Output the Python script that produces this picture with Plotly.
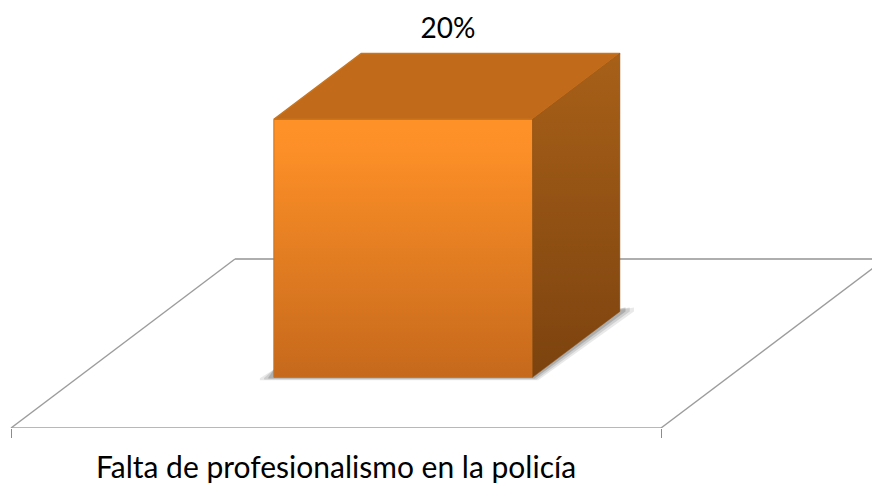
import plotly.graph_objects as go

categories = ["Falta de profesionalismo en la policía"]
values = [20]
labels = ["20%"]

WIDTH, HEIGHT = 872, 483
ML, MB = 0, 55
X0_PX = 336          # pixel of category 0
CAT_PX = 650         # pixels per category
Y_PX = 12.9          # pixels per percent

# oblique depth of the floor, in axis units
FLOOR_DX = 224 / CAT_PX
FLOOR_DY = 169 / Y_PX
BAR_W = 0.398        # bar width as part of the category
BAR_START = 0.30     # where the bar starts along the floor depth
BAR_DEPTH = 0.39     # how much of the floor depth it takes

FONT = "Lato"
x_range = [-X0_PX / CAT_PX, (WIDTH - X0_PX) / CAT_PX]
y_range = [0, (HEIGHT - MB) / Y_PX]


def face(xs, ys, **kw):
    return go.Scatter(x=xs, y=ys, mode="lines", fill="toself", hoverinfo="skip",
                      showlegend=False, **kw)


def floor_line(xs, ys, color, width):
    return go.Scatter(x=xs, y=ys, mode="lines", hoverinfo="skip", showlegend=False,
                      line=dict(color=color, width=width))


fig = go.Figure()

# floor
fig.add_trace(floor_line([-0.5, 0.5], [0, 0], "#a0a0a0", 1.6))
fig.add_trace(floor_line([-0.5, -0.5 + FLOOR_DX], [0, FLOOR_DY], "#9c9c9c", 1.4))
fig.add_trace(floor_line([-0.5 + FLOOR_DX, 0.5 + FLOOR_DX], [FLOOR_DY, FLOOR_DY], "#aeaeae", 2))
fig.add_trace(floor_line([0.5 + FLOOR_DX, 0.5], [FLOOR_DY, 0], "#9c9c9c", 1.4))

for i, v in enumerate(values):
    sx = BAR_START * FLOOR_DX
    sy = BAR_START * FLOOR_DY
    dx = BAR_DEPTH * FLOOR_DX
    dy = BAR_DEPTH * FLOOR_DY
    left = i - BAR_W / 2 + sx
    right = i + BAR_W / 2 + sx
    base = sy
    top = sy + v

    # soft shadow under the bar, a few stacked layers
    for grow, alpha in [(1.0, 0.12), (0.7, 0.16), (0.4, 0.24)]:
        gx = grow * 14 / CAT_PX
        gy = grow * 3 / Y_PX
        fig.add_trace(face(
            [left - gx, left, right + dx + gx, right + dx + gx, right + gx * 0.4, left - gx],
            [base - gy * 0.3, base + 0.6, base + dy + 0.3, base + dy, base - gy, base - gy],
            line=dict(width=0), fillcolor=f"rgba(70,70,70,{alpha})"))

    # front face
    fig.add_trace(face(
        [left, right, right, left, left], [base, base, top, top, base],
        line=dict(color="#c7711f", width=1),
        fillgradient=dict(type="vertical", start=top, stop=base,
                          colorscale=[[0, "#ff9227"], [0.12, "#fc8f27"], [1, "#c6691c"]])))
    # top face
    fig.add_trace(face(
        [left, right, right + dx, left + dx, left],
        [top, top, top + dy, top + dy, top],
        line=dict(color="#c9741f", width=1.5), fillcolor="#c06a1a"))
    # right face
    fig.add_trace(face(
        [right, right + dx, right + dx, right, right],
        [base, base + dy, top + dy, top, base],
        line=dict(color="#8f5014", width=0.5),
        fillgradient=dict(type="vertical", start=top + dy, stop=base,
                          colorscale=[[0, "#a86018"], [1, "#7c430f"]])))
    # value label sits mid floor depth, a bit above the bar
    fig.add_trace(go.Scatter(
        x=[i + 0.5 * FLOOR_DX], y=[top + dy + 0.65], mode="text", text=[labels[i]],
        textposition="top center", hoverinfo="skip", showlegend=False,
        textfont=dict(family=FONT, size=28, color="#000000")))

fig.update_xaxes(
    range=x_range, tickmode="array", tickvals=list(range(len(categories))),
    ticktext=categories, ticklen=0, showgrid=False, zeroline=False,
    showline=False, automargin=False,
    tickfont=dict(family=FONT, size=30, color="#000000"), ticklabelstandoff=19,
    minor=dict(tickmode="array", tickvals=[-0.5, 0.5], ticks="outside", ticklen=9,
               tickwidth=1.3, tickcolor="#8c8c8c", showgrid=False),
)
fig.update_yaxes(range=y_range, visible=False, showgrid=False, zeroline=False, automargin=False)

fig.update_layout(
    width=WIDTH, height=HEIGHT,
    margin=dict(l=ML, r=0, t=0, b=MB, pad=0),
    plot_bgcolor="#ffffff", paper_bgcolor="#ffffff",
    showlegend=False,
)

# page body has a default margin, drop it so the chart sits at 0,0
fig.write_html("out.html", config=dict(displayModeBar=False),
               post_script="document.body.style.margin='0';document.body.style.overflow='hidden';")
